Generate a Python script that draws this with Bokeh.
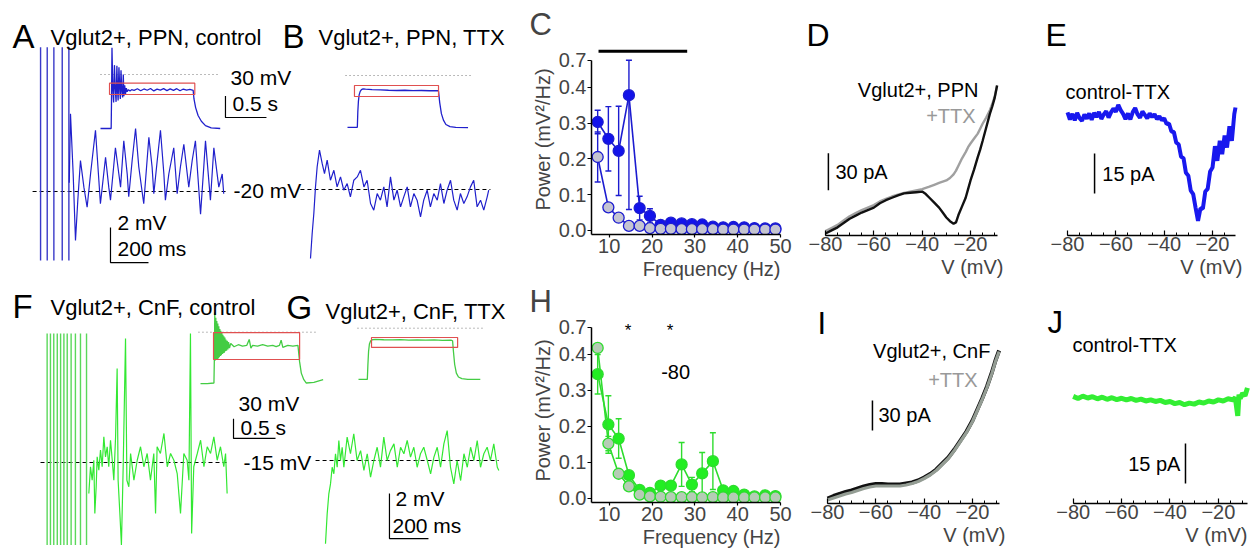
from bokeh.plotting import figure
from bokeh.models import Range1d, Label, FixedTicker, SingleIntervalTicker, Title
from bokeh.layouts import row, column
from bokeh.embed import file_html
from bokeh.resources import INLINE

FONT = "Liberation Sans"
BLUE = "#2020cc"
BLUE_SPK = "#3a3ac8"
BLUE_E = "#1818ee"
GREEN = "#33e833"
GREEN_SPK = "#5ad85a"
GREEN_IN = "#44cc44"
RED = "#e05050"

# ---------------- data: A (Vglut2+, PPN, control) ----------------
A_spike_t = [-147, -112, -77, -33, 2]          # ms
A_spike_lo, A_spike_hi = -3.94, 8.25            # visible (clipped) extent, mV
A_t = [4, 10.5, 24.6, 36.8, 49, 63, 81, 98, 116, 142, 160, 168, 195, 212, 221, 247, 265, 274, 291, 309,
       317, 335, 353, 370, 396, 423, 440, 449, 467, 484, 502, 510, 528, 554, 572, 589, 607, 633, 651, 668,
       695, 712, 721, 747, 765, 791, 809, 817]
A_v = [0.5, 4.44, 1.0, -2.8, -0.5, 1.77, 0.25, -0.9, 1.0, 3.5, 0.6, -0.7, 1.96, 0.25, -0.5, 2.5, 1.0, 0.25, 2.9, 1.0,
       -0.3, 1.77, 3.6, 1.4, -0.7, 3.1, 1.4, -0.13, 1.77, 3.5, 1.0, -0.5, 1.0, 2.5, -0.13, 1.4, 2.7, 0.25, 1.77, 2.9,
       -1.3, 1.4, 2.9, -0.5, 2.5, 0.25, 1.0, -0.13]
Ai_t = [0, 0.13, 0.134, 0.14, 0.15, 0.16, 0.17, 0.18, 0.19, 0.2, 0.207, 0.215, 0.225, 0.235, 0.242, 0.25, 0.26,
        0.27, 0.278, 0.285, 0.295, 0.305, 0.315, 0.325, 0.34, 0.36, 0.38, 0.41, 0.45, 0.49, 0.53, 0.57, 0.61, 0.65,
        0.69, 0.73, 0.77, 0.81, 0.85, 0.89, 0.93, 0.97, 1.01, 1.05, 1.09, 1.13, 1.14, 1.16, 1.19, 1.23, 1.28, 1.35, 1.46]
Ai_v = [-75, -75, -40, 37, -20, -39, 13, -20, -38, 12, -20, -36, 10, -22, -34, 6, -23, -32, 0, -30, -15, -27, -19,
        -24, -21, -23, -21, -22, -19.8, -22.6, -20.1, -21.9, -19.4, -22.8, -20.3, -21.7, -19.6, -22.4, -20, -22.1,
        -19.7, -22.6, -20.2, -21.8, -20.5, -22, -34, -46, -57, -65, -71, -74, -75]
A_box = (0.11, 1.15, -27.8, -12)   # t0, t1, v0, v1 of red window

# ---------------- data: B (Vglut2+, PPN, TTX) ----------------
B_t = [0, 8.8, 17.5, 26.3, 35.1, 47.4, 61.4, 73.7, 87.7, 105, 123, 140, 158, 175, 193, 210, 228, 246, 263, 281,
       298, 316, 333, 351, 368, 386, 403, 421, 439, 456, 474, 491, 509, 526, 544, 561, 579, 596, 614, 631,
       649, 667, 684, 702, 719, 737, 754, 772, 789, 807, 824, 842, 859, 877, 895, 912, 930, 938]
B_v = [-3.94, -2.51, -1.37, 0.15, 1.30, 2.25, 1.49, 0.91, 1.68, 0.53, 1.10, 0.15, 0.72, -0.04, 0.34, -0.42, 0.53,
       0.72, 1.10, 0.15, 0.53, -0.80, -1.18, -0.23, -0.61, 0.15, -0.99, 0.72, -0.61, -0.04, -0.99, -0.42, 0.15,
       -0.99, -0.23, -0.61, -1.56, -0.61, -0.04, -0.99, -0.23, -0.61, 0.34, -0.80, -0.04, 0.53, -0.61, -1.18,
       -0.23, -0.80, -0.42, 0.15, 0.53, -0.99, -0.61, -1.18, -0.42, -0.04]
Bi_t = [0, 0.12, 0.126, 0.133, 0.142, 0.155, 0.17, 0.19, 0.22, 0.3, 0.4, 0.5, 0.6, 0.7, 0.8, 0.9, 1.0, 1.1, 1.11,
        1.125, 1.145, 1.17, 1.2, 1.25, 1.32, 1.47]
Bi_v = [-72, -72, -50, -36, -27, -22, -19.5, -18.5, -18.8, -19.5, -20, -20.5, -20.8, -20.5, -21, -20.8, -21.2, -21,
        -22, -38, -53, -62, -68, -71, -72, -72.5]
B_box = (0.085, 1.11, -29.2, -13.9)

# ---------------- data: F (Vglut2+, CnF, control) ----------------
F_spike_t = [-207, -190, -173, -155, -138, -121, -104, -84, -62, -36, -5]
F_spike_lo, F_spike_hi = -3.67, 5.73
F_t = [6.8, 15.4, 23.9, 32.5, 37.6, 44.5, 49.6, 58.1, 66.7, 75.2, 83.8, 92.3, 101, 109, 118, 127, 135, 144, 152, 157,
       166, 174, 183, 195, 202, 212, 221, 238, 255, 272, 289, 306, 323, 340, 349, 357, 374, 392, 409, 426,
       443, 460, 477, 494, 511, 520, 528, 534, 545, 563, 580, 597, 614, 631, 648, 665, 682, 699, 708, 716]
F_v = [-1.38, -0.19, -0.79, 0.10, -2.27, -1.08, 0.25, -0.34, 0.55, -0.19, 1.14, 0.25, 0.70, -0.19, 0.99, 0.10, -0.79,
       1.14, 4.18, -0.79, -2.27, -3.67, -0.19, 5.51, -0.79, -1.08, 0.40, -0.79, 0.10, 0.70, -0.19, 0.40, -0.79,
       0.40, -2.27, 0.70, 0.40, 1.29, -0.19, 0.40, 0.10, -0.49, -2.27, 0.40, 0.10, -0.79, 5.73, -3.16, -0.19,
       0.40, 0.99, -0.19, 0.70, 0.40, 1.14, 0.10, 0.70, -0.19, 0.40, -1.38]
Fi_t = [0, 0.08, 0.16, 0.165, 0.17, 0.176, 0.182, 0.188, 0.194, 0.2, 0.206, 0.212, 0.218, 0.224, 0.23, 0.236, 0.242,
        0.248, 0.254, 0.26, 0.266, 0.272, 0.278, 0.284, 0.29, 0.296, 0.302, 0.31, 0.318, 0.326, 0.334, 0.345, 0.36,
        0.4, 0.45, 0.5, 0.55, 0.58, 0.6, 0.62, 0.68, 0.74, 0.8, 0.86, 0.9, 0.94, 0.96, 0.98, 1.04, 1.1, 1.16, 1.18,
        1.2, 1.23, 1.26, 1.35, 1.46]
Fi_v = [-78, -78, -77, -40, 30, -43, 22, -42, 17, -41, 13, -40, 9, -38, 5, -36, 2, -35, -1, -33, -4, -32, -6, -31,
        -8, -29, -11, -28, -13, -26, -15, -24, -17, -22, -19, -21, -20, -11, -24, -20, -21, -19, -21, -20, -22, -20,
        -12, -23, -20, -21, -20, -45, -62, -72, -77, -76, -72]
F_box = (0.155, 1.18, -41.4, -0.5)

# ---------------- data: G (Vglut2+, CnF, TTX) ----------------
G_t = [0, 8.6, 17.1, 25.7, 34.2, 42.8, 51.3, 59.9, 68.4, 77.0, 85.5, 94.1, 111, 128, 145, 162, 180, 197, 214, 231,
       248, 265, 282, 299, 316, 333, 351, 368, 385, 402, 419, 436, 453, 470, 487, 504, 522, 539, 556, 573,
       590, 607, 624, 641, 658, 675, 693, 710, 727, 744, 761, 778, 795, 812, 829, 846, 863, 881, 889]
G_v = [-3.70, -2.37, -1.48, -1.04, -0.30, -0.59, 0.30, -0.30, 0.89, 0, 0.59, -0.30, 1.04, 0.30, 1.19, 0, 0.44,
       -0.44, 0.30, -0.74, 0, 0.59, -0.30, 1.04, 0, 0.44, 0.74, -0.30, 0.59, 0.30, 0.89, 0.15, 0.59, -0.30, 0.30,
       0.59, 0, -0.59, 0.15, 0.59, -0.30, 0.74, 1.33, -0.30, -1.04, 0, -0.89, 0.30, -0.30, 0.59, 0, 0.89, -0.30,
       0.30, 0.59, 0, 0.74, -0.30, -0.44]
Gi_t = [0, 0.105, 0.112, 0.12, 0.13, 0.145, 0.165, 0.2, 0.3, 0.4, 0.5, 0.6, 0.7, 0.8, 0.9, 1.0, 1.1, 1.12, 1.13,
        1.145, 1.165, 1.19, 1.23, 1.3, 1.45]
Gi_v = [-77.5, -77.5, -55, -35, -24, -19, -17.5, -17, -17.5, -17.8, -17.3, -18, -17.6, -18.2, -17.8, -18.3, -18,
        -19, -35, -55, -68, -74, -76.5, -77.5, -77.5]
G_box = (0.155, 1.18, -29.2, -14.1)

# ---------------- data: C / H (power spectra) ----------------
freqs = [7.3, 9.8, 12.2, 14.6, 17.1, 19.5, 22.0, 24.4, 26.9, 29.3, 31.7, 34.2, 36.6, 39.0, 41.5, 43.9, 46.4, 48.8]
C_ctrl = [0.303, 0.256, 0.222, 0.378, 0.062, 0.040, 0.015, 0.021, 0.019, 0.017, 0.016, 0.010, 0.008, 0.009, 0.008, 0.006, 0.005, 0.005]
C_ctrl_err = [0.033, 0.09, 0.125, 0.32, 0.033, 0.02, 0.008, 0.007, 0.007, 0.006, 0.006, 0.005, 0.004, 0.004, 0.004, 0.003, 0.003, 0.003]
C_ttx = [0.205, 0.064, 0.035, 0.012, 0.012, 0.006, 0.004, 0.004, 0.003, 0.003, 0.003, 0.003, 0.002, 0.002, 0.002, 0.002, 0.002, 0.002]
C_ttx_err = [0.07, 0.01, 0.006, 0.004, 0.006, 0.003, 0.002, 0.002, 0.002, 0.002, 0.002, 0.002, 0.002, 0.002, 0.002, 0.002, 0.002, 0.002]
H_ctrl = [0.345, 0.205, 0.166, 0.064, 0.023, 0.015, 0.035, 0.035, 0.094, 0.038, 0.069, 0.103, 0.022, 0.020, 0.010, 0.005, 0.008, 0.006]
H_ctrl_err = [0.055, 0.08, 0.055, 0.01, 0.005, 0.004, 0.006, 0.006, 0.061, 0.02, 0.058, 0.079, 0.005, 0.005, 0.003, 0.002, 0.002, 0.002]
H_ttx = [0.418, 0.152, 0.068, 0.033, 0.010, 0.005, 0.004, 0.003, 0.003, 0.003, 0.002, 0.003, 0.002, 0.002, 0.002, 0.002, 0.002, 0.002]
H_ttx_err = [0.01, 0.02, 0.01, 0.006, 0.004, 0.003, 0.002, 0.002, 0.002, 0.002, 0.002, 0.002, 0.002, 0.002, 0.002, 0.002, 0.002, 0.002]
C_sig_bar = (7.5, 28.2)          # Hz extent of significance bar
H_star_f = [14.4, 24.2]
power_ticks = [0.0, 0.1, 0.2, 0.3, 0.4, 0.7]

# ---------------- data: D / I (I-V curves) ----------------
D_V = [-80, -77.5, -75, -72.5, -70, -67.5, -65, -62.5, -60, -57.5, -55, -52.5, -50, -47.5, -45, -42.5, -40, -38.5,
       -37, -35, -33, -31.5, -30, -28.5, -27, -26, -25, -23.5, -22, -21, -20, -18.5, -17, -16, -15, -13.5, -12,
       -11, -10, -9]
D_ctrl = [0, 2.5, 5, 8.5, 12, 14.5, 17, 19, 21, 24.5, 27, 29, 31, 32.5, 33, 33.5, 34, 32, 29, 25, 21, 17, 13, 10,
          8, 9, 15, 22, 29, 36, 43, 52, 62, 68, 75, 86, 97, 103, 110, 120]
D_ttx = [2, 4.5, 7, 10.5, 14, 16.5, 19, 21, 23, 26, 28, 30, 31.5, 33, 34, 35, 36, 37, 38, 39.5, 41, 42, 43, 45, 48,
         51, 55, 61, 66, 70, 73, 77, 81, 85, 89, 94, 100, 105, 111, 120]
I_V = [-80, -77.5, -75, -72.5, -70, -67.5, -65, -62.5, -60, -57.5, -55, -52.5, -50, -47.5, -45, -42.5, -40, -37.5,
       -35, -32.5, -30, -27.5, -25, -22.5, -20, -18, -16, -14, -12, -10.5, -9]
I_ctrl = [0, 2.5, 4.7, 6.5, 8, 10, 12, 13.5, 14.5, 14.5, 14, 14, 14, 15, 16, 18, 21, 24.5, 29, 35, 41, 49, 58, 67,
          78, 89, 100, 112, 126, 138, 148]
I_ttx = [-1.5, 0.5, 2.5, 4.5, 6, 8, 10, 11.5, 12.5, 12.5, 12.5, 12.5, 12.5, 13.5, 15, 17, 20, 23.5, 28, 34, 40, 48,
         57, 66, 77, 88, 99, 111, 125, 137, 147]

# ---------------- data: E / J (control - TTX) ----------------
E_V = [-80, -79, -78, -77, -76, -75, -74, -73, -72, -71, -70, -69, -68, -67, -66, -65, -64, -63, -62, -61, -60, -59,
       -58, -57, -56, -55, -54, -53, -52, -51, -50, -49, -48, -47, -46, -45, -44, -43, -42, -41, -40, -39, -38,
       -37, -36, -35, -34, -33, -32, -31, -30, -29, -28, -27, -26, -25, -24, -23, -22, -21, -20, -19, -18, -17,
       -16, -15, -14, -13, -12, -11, -10.5]
E_I = [1.2, -1.5, 0.6, -1.8, 1.0, -1.0, -2.0, 0.4, -1.2, 0.8, -1.6, 1.0, -0.6, 1.4, -1.3, 0.4, 1.6, -0.8, 1.2, 2.6,
       1.4, 4.0, 2.0, 0.6, -1.4, 0.8, -1.5, 1.3, 2.8, 0.4, -0.9, 1.5, 0.2, -1.1, 0.8, -0.6, 0.5, -1.4, -0.3, -1.8,
       -1.0, -3.2, -3.0, -6.0, -6.2, -10.2, -10.8, -15.5, -16.0, -21.5, -22.6, -28.2, -29.5, -34.6, -39.5, -34.8,
       -35.0, -28.5, -27.5, -21.0, -19.5, -11.5, -17.0, -9.5, -14.5, -7.5, -12.0, -4.0, -9.5, 0.5, 3.0]
J_V = [-80, -78, -76, -74, -72, -70, -68, -66, -64, -62, -60, -58, -56, -54, -52, -50, -48, -46, -44, -42, -40, -38,
       -36, -34, -32, -30, -28, -26, -24, -22, -20, -18, -16, -14, -13, -12, -11.5, -11, -10, -9, -8]
J_I = [0.3, -0.5, 0.4, -0.3, 0.2, -0.6, 0.0, -0.8, -0.2, -0.9, -0.4, -1.0, -0.5, -1.2, -0.7, -1.4, -1.0, -1.6, -1.2,
       -2.0, -1.6, -2.4, -2.0, -2.8, -2.2, -2.6, -1.8, -2.2, -1.4, -1.8, -1.0, -1.4, -0.6, -1.0, -0.2, -7.0, 1.0,
       -0.5, 1.5, 0.5, 3.5]


# ---------------- layout geometry (reference pixels) ----------------
TOP0, TOP1 = 0, 281        # vertical extent of top row
BOT0, BOT1 = 281, 549      # vertical extent of bottom row
TOP_H, BOT_H = TOP1 - TOP0, BOT1 - BOT0
X0, X1 = 0, 528            # horizontal extent of the trace panels (A/B, F/G)
BB = 46                    # bottom border of the I-V panels


def rng(pa, da, pb, db, lo, hi):
    k = (db - da) / (pb - pa)
    return Range1d(start=da + (lo - pa) * k, end=da + (hi - pa) * k)


def lab(p, x, y, text, size=20, color="black", align="left", base="alphabetic", xr="default", yr="default"):
    p.add_layout(Label(x=x, y=y, text=text, x_range_name=xr, y_range_name=yr, text_font=FONT,
                       text_font_size=f"{size}px", text_color=color, text_align=align, text_baseline=base))


def no_align(p):
    if "frame_align" in p.properties():
        p.frame_align = False


def bare(w, h, xr, yr):
    p = figure(width=w, height=h, x_range=xr, y_range=yr, x_axis_type=None, y_axis_type=None,
               output_backend="svg", toolbar_location=None, min_border=0, title=None)
    p.outline_line_color = None
    no_align(p)
    return p


def axfig(w, h, xr, yr, l, r, t, b, yaxis=False, title=None):
    p = figure(width=w, height=h, x_range=xr, y_range=yr, output_backend="svg", toolbar_location=None,
               min_border_left=l, min_border_right=r, min_border_top=t, min_border_bottom=b,
               y_axis_type=("linear" if yaxis else None), title=title)
    p.outline_line_color = None
    p.grid.visible = False
    no_align(p)
    return p


def style_axis(ax, bounds, ticker, tin=5, tout=0, min_in=3):
    ax.bounds = bounds
    ax.ticker = ticker
    ax.axis_line_width = 1.5
    ax.major_tick_line_width = 1.2
    ax.minor_tick_line_width = 1.0
    ax.major_tick_in = tin
    ax.major_tick_out = tout
    ax.minor_tick_in = min_in
    ax.minor_tick_out = 0
    ax.major_label_text_font = FONT
    ax.major_label_text_font_size = "20px"
    ax.major_label_standoff = 1


def below_title(p, text, offset, size=20):
    t = Title(text=text, align="right", offset=offset, text_font=FONT, text_font_size=f"{size}px",
              text_font_style="normal")
    if "standoff" in Title.properties():
        t.standoff = 0
    p.add_layout(t, "below")


def brk(v):
    # broken y axis: values above 0.45 are compressed (0.7 -> 0.476)
    return v if v <= 0.45 else 0.45 + (v - 0.45) * 0.104


def trace_panel(p, spikes_t, lo, hi, spk_col, t, v, col, tr, vr):
    n = len(spikes_t)
    p.segment(x0=spikes_t, y0=[lo] * n, x1=spikes_t, y1=[hi] * n, line_color=spk_col, line_width=1.4,
              x_range_name=tr, y_range_name=vr)
    p.line(t, v, line_color=col, line_width=1.2, x_range_name=tr, y_range_name=vr)


def inset(p, t, v, col, box, dot, tr, vr):
    p.line(dot, [0, 0], line_color="#777777", line_dash="1 3", line_width=1, x_range_name=tr, y_range_name=vr)
    p.line(t, v, line_color=col, line_width=1.3, x_range_name=tr, y_range_name=vr)
    p.quad(left=box[0], right=box[1], bottom=box[2], top=box[3], fill_color=None, line_color=RED,
           line_width=1.2, x_range_name=tr, y_range_name=vr)


# ================= top-left: A + B =================
ab = bare(X1 - X0, TOP_H, Range1d(X0, X1), Range1d(TOP1, TOP0))
ab.extra_x_ranges = {"tA": rng(68, 0, 106, 200, X0, X1), "tAi": rng(100, 0, 182, 1, X0, X1),
                     "tB": rng(310, 0, 348, 200, X0, X1), "tBi": rng(347, 0, 429, 1, X0, X1)}
ab.extra_y_ranges = {"vA": rng(191, 0, 173.5, 1, TOP1, TOP0), "vAi": rng(74, 0, 2, 100, TOP1, TOP0),
                     "vB": rng(189, 0, 171.5, 1, TOP1, TOP0), "vBi": rng(75, 0, 3, 100, TOP1, TOP0)}
ab.line([-189, 842], [0, 0], line_color="black", line_dash="4 3", line_width=1.1, x_range_name="tA", y_range_name="vA")
ab.line([-53, 947], [0, 0], line_color="black", line_dash="4 3", line_width=1.1, x_range_name="tB", y_range_name="vB")
trace_panel(ab, A_spike_t, A_spike_lo, A_spike_hi, BLUE_SPK, A_t, A_v, BLUE, "tA", "vA")
ab.line(B_t, B_v, line_color=BLUE, line_width=1.2, x_range_name="tB", y_range_name="vB")
inset(ab, Ai_t, Ai_v, BLUE, A_box, [0, 1.43], "tAi", "vAi")
inset(ab, Bi_t, Bi_v, BLUE, B_box, [-0.024, 1.5], "tBi", "vBi")
ab.line([1.524, 1.524, 2.024], [-29.7, -59.7, -59.7], line_color="black", line_width=1.2, x_range_name="tAi", y_range_name="vAi")
ab.line([221, 221, 421], [-2.06, -4.06, -4.06], line_color="black", line_width=1.2, x_range_name="tA", y_range_name="vA")
lab(ab, 12, 36, "A", 33)
lab(ab, 50, 37, "Vglut2+, PPN, control", 22)
lab(ab, 282, 36, "B", 33)
lab(ab, 318, 37, "Vglut2+, PPN, TTX", 22)
lab(ab, 230, 77, "30 mV", 21, base="middle")
lab(ab, 232, 103, "0.5 s", 21, base="middle")
lab(ab, 233, 190, "-20 mV", 21, base="middle")
lab(ab, 117, 222, "2 mV", 21, base="middle")
lab(ab, 117, 248, "200 ms", 21, base="middle")

# ================= bottom-left: F + G =================
fg = bare(X1 - X0, BOT_H, Range1d(X0, X1), Range1d(BOT1, BOT0))
fg.extra_x_ranges = {"tF": rng(87, 0, 126, 200, X0, X1), "tFi": rng(200, 0, 284, 1, X0, X1),
                     "tG": rng(325, 0, 364, 200, X0, X1), "tGi": rng(358, 0, 442, 1, X0, X1)}
fg.extra_y_ranges = {"vF": rng(462, 0, 439.5, 1, BOT1, BOT0), "vFi": rng(331.7, 0, 265.7, 100, BOT1, BOT0),
                     "vG": rng(460, 0, 437.5, 1, BOT1, BOT0), "vGi": rng(327.7, 0, 261.7, 100, BOT1, BOT0)}
fg.line([-241, 718], [0, 0], line_color="black", line_dash="4 3", line_width=1.1, x_range_name="tF", y_range_name="vF")
fg.line([-51, 888], [0, 0], line_color="black", line_dash="4 3", line_width=1.1, x_range_name="tG", y_range_name="vG")
trace_panel(fg, F_spike_t, F_spike_lo, F_spike_hi, GREEN_SPK, F_t, F_v, GREEN, "tF", "vF")
fg.line(G_t, G_v, line_color=GREEN, line_width=1.2, x_range_name="tG", y_range_name="vG")
inset(fg, Fi_t, Fi_v, GREEN_IN, F_box, [-0.024, 1.39], "tFi", "vFi")
inset(fg, Gi_t, Gi_v, GREEN_IN, G_box, [-0.012, 1.476], "tGi", "vGi")
fg.line([0.393, 0.393, 0.893], [-131, -161, -161], line_color="black", line_width=1.2, x_range_name="tFi", y_range_name="vFi")
fg.line([328, 328, 528], [-1.47, -3.47, -3.47], line_color="black", line_width=1.2, x_range_name="tG", y_range_name="vG")
lab(fg, 12, 306, "F", 33)
lab(fg, 50, 307, "Vglut2+, CnF, control", 22)
lab(fg, 286, 307, "G", 33)
lab(fg, 325, 311, "Vglut2+, CnF, TTX", 22)
lab(fg, 238, 403, "30 mV", 21, base="middle")
lab(fg, 240, 427, "0.5 s", 21, base="middle")
lab(fg, 243, 462, "-15 mV", 21, base="middle")
lab(fg, 395, 498, "2 mV", 21, base="middle")
lab(fg, 392, 525, "200 ms", 21, base="middle")


# ================= power panels C / H =================
def power_panel(h, top, bottom, ytop, ctrl, ctrl_err, ttx, ttx_err, line_col, fill_col, ttx_fill, letter, standoff):
    p = axfig(272, h, Range1d(5.86, 50.92), Range1d(-0.012, ytop), 60, 16, top, bottom, yaxis=True, title=letter)
    p.title.align = "left"
    p.title.offset = -62
    p.title.text_font = FONT
    p.title.text_font_size = "31px"
    p.title.text_font_style = "normal"
    if "standoff" in Title.properties():
        p.title.standoff = standoff
    style_axis(p.xaxis[0], (5.86, 50), FixedTicker(ticks=[10, 20, 30, 40, 50]), tin=0, tout=3)
    ya = p.yaxis[0]
    ticks = [brk(v) for v in power_ticks]
    style_axis(ya, (-0.012, brk(0.7)), FixedTicker(ticks=ticks), tin=0, tout=4)
    ya.major_label_overrides = {t: f"{v:.1f}" for t, v in zip(ticks, power_ticks)}
    ya.axis_label = "Power (mV²/Hz)"
    ya.axis_label_text_font = FONT
    ya.axis_label_text_font_size = "20px"
    ya.axis_label_text_font_style = "normal"
    ya.axis_label_standoff = 2
    for vals, errs, fcol, marker_fill in ((ctrl, ctrl_err, line_col, fill_col), (ttx, ttx_err, line_col, ttx_fill)):
        hi = [brk(v + e) for v, e in zip(vals, errs)]
        lo = [max(v - e, 0) for v, e in zip(vals, errs)]
        p.line(freqs, vals, line_color=fcol, line_width=1.6)
        p.segment(x0=freqs, y0=lo, x1=freqs, y1=hi, line_color=fcol, line_width=1.4)
        p.scatter(freqs, hi, marker="dash", size=6, line_color=fcol, line_width=1.4)
        p.scatter(freqs, lo, marker="dash", size=6, line_color=fcol, line_width=1.4)
        p.scatter(freqs, vals, size=11, fill_color=marker_fill, line_color=fcol, line_width=1.3)
    below_title(p, "Frequency (Hz)", 4)
    return p


c = power_panel(TOP_H, 44, 47, 0.52, C_ctrl, C_ctrl_err, C_ttx, C_ttx_err, "#1c1cd0", "#1212ea", "#c4c4d2", "C", 6)
c.line(list(C_sig_bar), [0.501, 0.501], line_color="black", line_width=3)

h = power_panel(BOT_H, 37, 47, 0.50, H_ctrl, H_ctrl_err, H_ttx, H_ttx_err, "#2edc2e", "#22ee22", "#b5ccb5", "H", 0)
h.text(H_star_f, [0.466, 0.466], text=["*", "*"], text_font_size="17px", text_align="center",
       text_baseline="middle", text_color="black")
lab(h, 25.5, 0.351, "-80", 20, align="center", base="middle")


# ================= I-V panels D / I =================
def iv_panel(h, xr, yr, V, ctrl, ttx, gray, wide_ttx, v_off):
    p = axfig(240, h, xr, yr, 0, 0, 0, BB)
    style_axis(p.xaxis[0], (-80, -9), SingleIntervalTicker(interval=20, num_minor_ticks=4))
    if wide_ttx:
        p.line(V, ctrl, line_color="#111111", line_width=4)
        p.line(V, ttx, line_color=gray, line_width=3.2)
    else:
        p.line(V, ttx, line_color=gray, line_width=2.4)
        p.line(V, ctrl, line_color="#111111", line_width=2.4)
    below_title(p, "V (mV)", v_off)
    return p


# D: ref x 800-1040, -80 mV at px 825, 2.417 px/mV; I = (233 - py)/1.233
d = iv_panel(TOP_H, Range1d(-90.34, 8.96), Range1d((233 - (TOP1 - BB)) / 1.233, (233 - TOP0) / 1.233),
             D_V, D_ctrl, D_ttx, "#a0a0a0", False, 37)
d.line([-78.8, -78.8], [35, 65], line_color="black", line_width=1.5)
lab(d, -87.9, 160.6, "D", 32)
lab(d, -16.7, 116, "Vglut2+, PPN", align="right", base="middle")
lab(d, -17.9, 95, "+TTX", color="#999999", align="right", base="middle")
lab(d, -75.9, 49.5, "30 pA", base="middle")

# I: ref x 800-1040, -80 mV at px 827; I = 498 - py
iv = iv_panel(BOT_H, Range1d(-91.17, 8.13), Range1d(498 - (BOT1 - BB), 498 - BOT0),
              I_V, I_ctrl, I_ttx, "#949d94", True, 35)
iv.line([-61.4, -61.4], [68, 98], line_color="black", line_width=1.5)
lab(iv, -84.1, 175, "I", 31)
lab(iv, -12.6, 148, "Vglut2+, CnF", align="right", base="middle")
lab(iv, -17.9, 119, "+TTX", color="#999999", align="right", base="middle")
lab(iv, -58.9, 84, "30 pA", base="middle")


# ================= difference panels E / J =================
def diff_panel(h, xr, yr, V, I, col, bounds, v_off, lw):
    p = axfig(218, h, xr, yr, 0, 0, 0, BB)
    style_axis(p.xaxis[0], bounds, SingleIntervalTicker(interval=20, num_minor_ticks=4))
    p.line(V, I, line_color=col, line_width=lw)
    below_title(p, "V (mV)", v_off)
    return p


# E: ref x 1040-1258, -80 at 1067; I = (115 - py)/2.667
e = diff_panel(TOP_H, Range1d(-91.17, -0.98), Range1d((115 - (TOP1 - BB)) / 2.667, (115 - TOP0) / 2.667),
               E_V, E_I, BLUE_E, (-80, -10.5), 16, 4)
e.line([-68.8, -68.8], [-29.25, -14.25], line_color="black", line_width=1.5)
lab(e, -89.1, 30, "E", 32)
lab(e, -80.8, 8.75, "control-TTX", base="middle")
lab(e, -65.6, -21.9, "15 pA", base="middle")

# J: ref x 1040-1258, -80 at 1072.7, 2.42 px/mV; I = (396.7 - py)/2.667
j = diff_panel(BOT_H, Range1d(-93.51, -3.43), Range1d((396.7 - (BOT1 - BB)) / 2.667, (396.7 - BOT0) / 2.667),
               J_V, J_I, "#33ee33", (-80, -8), 11, 5)
j.line([-33.6, -33.6], [-32.4, -17.4], line_color="black", line_width=1.5)
lab(j, -90.6, 28, "J", 31)
lab(j, -80.3, 19.4, "control-TTX", base="middle")
lab(j, -35.7, -24.9, "15 pA", align="right", base="middle")

layout = column(row(ab, c, d, e), row(fg, h, iv, j))
open("out.html", "w").write(file_html(layout, INLINE))
